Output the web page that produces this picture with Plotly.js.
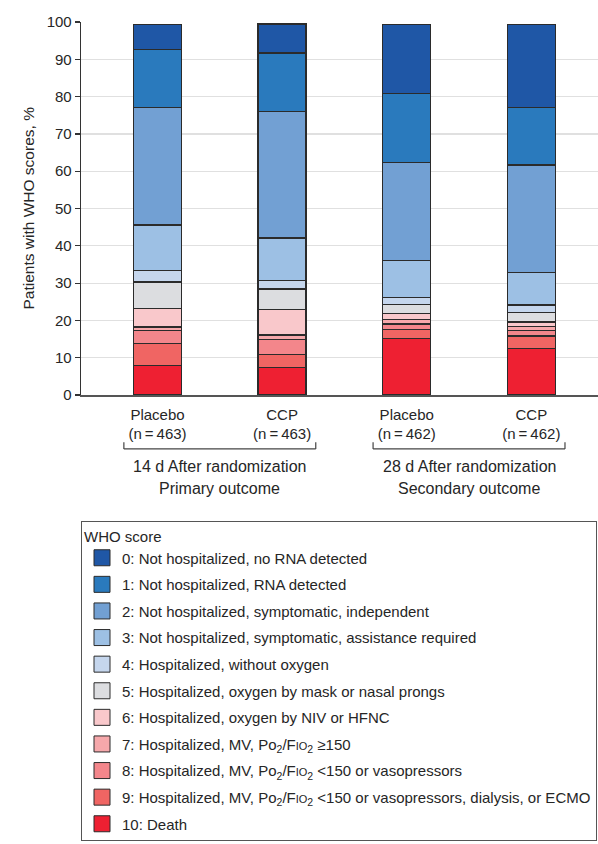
<!DOCTYPE html>
<html>
<head>
<meta charset="utf-8">
<script src="https://cdn.plot.ly/plotly-3.0.1.min.js"></script>
<style>html,body{margin:0;padding:0;background:#fff;}</style>
</head>
<body>
<div id="chart" style="width:598px;height:844px;"></div>
<script>
// Categories (bars, left to right)
const categories = ['Placebo<br>(n\u2009=\u2009463)', 'CCP<br>(n\u2009=\u2009463)', 'Placebo<br>(n\u2009=\u2009462)', 'CCP<br>(n\u2009=\u2009462)'];
const groupLabels = ['14 d After randomization', '28 d After randomization'];
const groupSubLabels = ['Primary outcome', 'Secondary outcome'];
const yTitle = 'Patients with WHO scores, %';

// Percent of patients per WHO score, per bar
const score0  = [6.8, 7.8, 18.5, 22.3];
const score1  = [15.6, 15.6, 18.5, 15.4];
const score2  = [31.4, 34.0, 26.3, 28.9];
const score3  = [12.2, 11.4, 10.0, 8.7];
const score4  = [3.1, 2.3, 1.9, 2.0];
const score5  = [7.2, 5.4, 2.4, 2.5];
const score6  = [4.9, 6.9, 1.6, 1.3];
const score7  = [1.0, 1.2, 1.2, 1.0];
const score8  = [3.3, 4.1, 1.5, 1.5];
const score9  = [5.9, 3.5, 2.4, 3.3];
const score10 = [8.0, 7.3, 15.1, 12.5];

const PF = 'Po<sub>2</sub>/F<span style="font-size:11px">IO</span><sub>2</sub>';
const scoreNames = [
  '0: Not hospitalized, no RNA detected',
  '1: Not hospitalized, RNA detected',
  '2: Not hospitalized, symptomatic, independent',
  '3: Not hospitalized, symptomatic, assistance required',
  '4: Hospitalized, without oxygen',
  '5: Hospitalized, oxygen by mask or nasal prongs',
  '6: Hospitalized, oxygen by NIV or HFNC',
  '7: Hospitalized, MV, ' + PF + ' \u2265150',
  '8: Hospitalized, MV, ' + PF + ' <150 or vasopressors',
  '9: Hospitalized, MV, ' + PF + ' <150 or vasopressors, dialysis, or ECMO',
  '10: Death'
];
const scoreColors = ['#1f57a6', '#2a7abd', '#72a0d3', '#9dc0e4', '#c5d6ed', '#dcdde0',
                     '#f9c8cb', '#f6a8ab', '#f3868b', '#f06563', '#ee2032'];
const scoreValues = [score0, score1, score2, score3, score4, score5, score6, score7, score8, score9, score10];

const FONT = '"Liberation Sans", Arial, sans-serif';
const TXT = '#262626';

const traces = [];
// Bars: stacked from score 10 (bottom) to score 0 (top)
for (let i = 10; i >= 0; i--) {
  traces.push({
    type: 'bar',
    x: categories,
    y: scoreValues[i],
    name: scoreNames[i],
    marker: {color: scoreColors[i], line: {color: '#2b2b2b', width: 1.3}},
    width: 0.385,
    showlegend: false,
    hoverinfo: 'y+name'
  });
}
// Legend entries (square swatches), 0 at top
for (let i = 0; i <= 10; i++) {
  traces.push({
    type: 'scatter',
    mode: 'markers',
    x: [null],
    y: [null],
    name: scoreNames[i],
    legendgroup: 'g' + i,
    marker: {symbol: 'square', size: 16, color: scoreColors[i], line: {color: '#2b2b2b', width: 1}},
    showlegend: true,
    hoverinfo: 'skip'
  });
}

const shapes = [];
const groupCenters = [0.5, 2.5];
const yB = -0.1445, yT = -0.127;
groupCenters.forEach(c => {
  const a = c - 0.77, b = c + 0.77;
  shapes.push({type: 'line', xref: 'x', yref: 'paper', x0: a, x1: b, y0: yB, y1: yB, line: {color: '#444', width: 1.2}});
  shapes.push({type: 'line', xref: 'x', yref: 'paper', x0: a, x1: a, y0: yB, y1: yT, line: {color: '#444', width: 1.2}});
  shapes.push({type: 'line', xref: 'x', yref: 'paper', x0: b, x1: b, y0: yB, y1: yT, line: {color: '#444', width: 1.2}});
});

const annotations = [];
groupCenters.forEach((c, k) => {
  annotations.push({xref: 'x', yref: 'paper', x: c, y: -0.1906, text: groupLabels[k], showarrow: false,
    xanchor: 'center', yanchor: 'middle', font: {family: FONT, size: 16, color: TXT}});
  annotations.push({xref: 'x', yref: 'paper', x: c, y: -0.2501, text: groupSubLabels[k], showarrow: false,
    xanchor: 'center', yanchor: 'middle', font: {family: FONT, size: 16, color: TXT}});
});
// y-axis title
annotations.push({xref: 'paper', yref: 'paper', x: (28 - 81) / 517, y: 0.5, text: yTitle, textangle: -90,
  showarrow: false, xanchor: 'center', yanchor: 'middle', font: {family: FONT, size: 15.5, color: TXT}});

const layout = {
  width: 598,
  height: 844,
  margin: {l: 81, r: 0, t: 22, b: 449, autoexpand: false},
  paper_bgcolor: '#ffffff',
  plot_bgcolor: '#ffffff',
  barmode: 'stack',
  font: {family: FONT, size: 15, color: TXT},
  xaxis: {
    type: 'category',
    categoryorder: 'array',
    categoryarray: categories,
    range: [-0.614, 3.535],
    showline: true,
    linecolor: '#555',
    linewidth: 1.5,
    ticks: '',
    ticklabelstandoff: 5,
    showgrid: false,
    zeroline: false,
    tickfont: {family: FONT, size: 15, color: TXT}
  },
  yaxis: {
    range: [0, 100],
    dtick: 10,
    tick0: 0,
    showline: true,
    linecolor: '#333',
    linewidth: 1.3,
    ticks: 'outside',
    ticklen: 5,
    tickwidth: 1.2,
    tickcolor: '#333',
    showgrid: true,
    gridcolor: '#e0e0e0',
    gridwidth: 1.2,
    zeroline: false,
    tickfont: {family: FONT, size: 15, color: TXT}
  },
  showlegend: true,
  legend: {
    xref: 'container',
    yref: 'container',
    x: 81 / 598,
    y: 1 - 521 / 844,
    xanchor: 'left',
    yanchor: 'top',
    bgcolor: '#ffffff',
    bordercolor: '#555',
    borderwidth: 1,
    font: {family: FONT, size: 15, color: TXT},
    title: {text: 'WHO score', font: {family: FONT, size: 15, color: TXT}},
    traceorder: 'grouped',
    tracegroupgap: 4.1,
    itemclick: false,
    itemdoubleclick: false
  },
  shapes: shapes,
  annotations: annotations
};

Plotly.newPlot('chart', traces, layout, {displayModeBar: false, staticPlot: true});
</script>
</body>
</html>
